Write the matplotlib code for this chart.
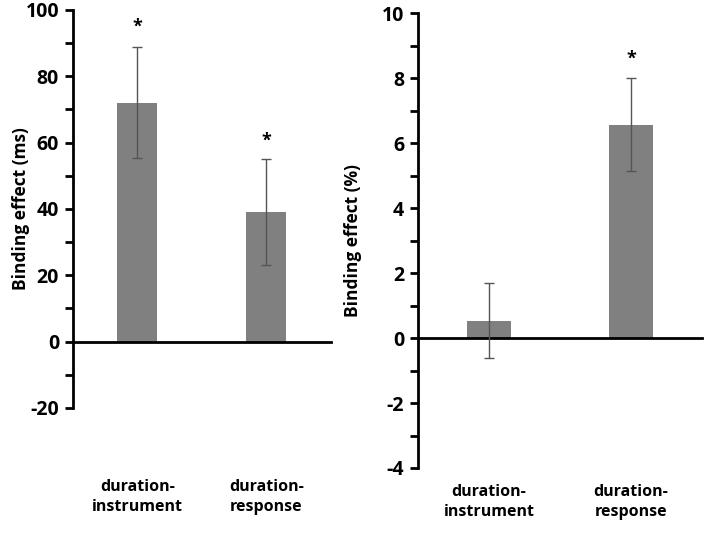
import numpy as np
import matplotlib.pyplot as plt

# data
categories = ['duration-\ninstrument', 'duration-\nresponse']

rt_effect = [72, 39]
rt_lower = [55.5, 23]
rt_upper = [88.7, 55]
rt_star = [95, 60.5]        # y position of the significance star, None = no star

err_effect = [0.52, 6.57]
err_lower = [-0.62, 5.15]
err_upper = [1.68, 8.0]
err_star = [None, 8.6]

plt.rcParams['font.family'] = ['Open Sans', 'DejaVu Sans']
plt.rcParams['font.weight'] = 'bold'
plt.rcParams['axes.unicode_minus'] = False

fig = plt.figure(figsize=(7.05, 5.48), dpi=100)
ax1 = fig.add_axes([0.1035, 0.2555, 0.366, 0.7263])
ax2 = fig.add_axes([0.593, 0.146, 0.4027, 0.830])


def draw_panel(ax, vals, lo, hi, stars, ylim, major, minor, ylabel, label_y):
    x = np.arange(len(vals))
    vals = np.array(vals)
    yerr = [vals - np.array(lo), np.array(hi) - vals]
    ax.bar(x, vals, width=0.31, color='#808080', zorder=2)
    ax.errorbar(x, vals, yerr=yerr, fmt='none', ecolor='#555555',
                elinewidth=1.0, capsize=3.5, capthick=1.0, zorder=3)
    for xi, s in zip(x, stars):
        if s is not None:
            ax.text(xi, s, '*', ha='center', va='center', fontsize=13,
                    fontweight='bold')
    ax.set_xlim(-0.5, 1.5)
    ax.set_ylim(*ylim)
    ax.spines['top'].set_visible(False)
    ax.spines['right'].set_visible(False)
    ax.spines['bottom'].set_position(('data', 0))
    ax.spines['left'].set_linewidth(2)
    ax.spines['bottom'].set_linewidth(2)
    ax.set_xticks([])
    ax.set_yticks(np.arange(ylim[0], ylim[1] + 0.001, major))
    ax.set_yticks(np.arange(ylim[0], ylim[1] + 0.001, minor), minor=True)
    ax.tick_params(axis='y', which='both', direction='out', length=6,
                   width=2, labelsize=14, pad=4)
    for lab in ax.get_yticklabels():
        lab.set_fontweight('bold')
    ax.set_ylabel(ylabel, fontsize=12.5, fontweight='bold')
    trans = ax.get_xaxis_transform().__class__(ax.transData, fig.transFigure)
    for xi, c in zip(x, categories):
        ax.text(xi, label_y, c, ha='center', va='center', fontsize=11.5,
                fontweight='bold', linespacing=1.35, transform=trans)


draw_panel(ax1, rt_effect, rt_lower, rt_upper, rt_star, (-20, 100), 20, 10,
           'Binding effect (ms)', 1 - 497 / 548)
draw_panel(ax2, err_effect, err_lower, err_upper, err_star, (-4, 10), 2, 1,
           'Binding effect (%)', 1 - 502 / 548)

ax1.yaxis.set_label_coords(-0.165, 0.5)
ax2.yaxis.set_label_coords(-0.197, 0.5)

fig.savefig('out.png', dpi=100)
